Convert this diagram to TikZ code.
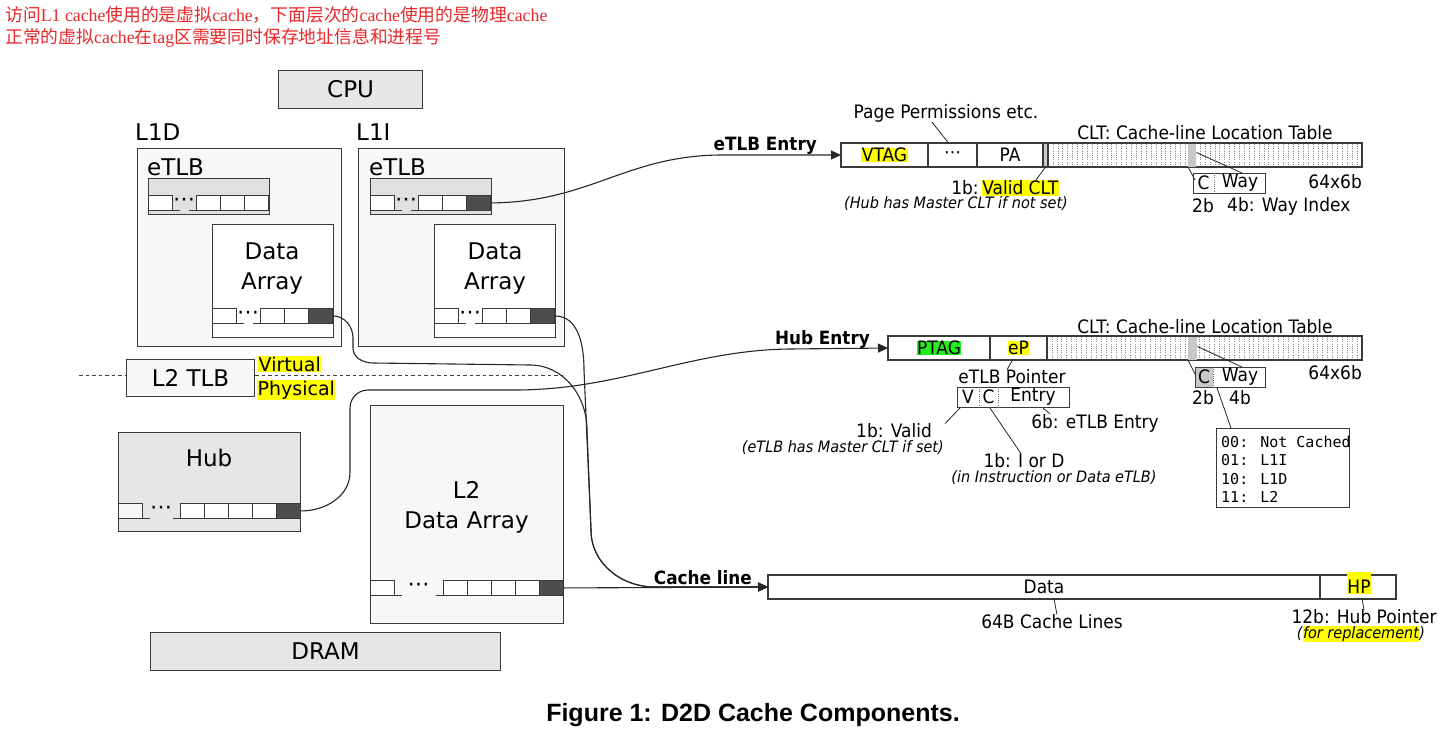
\documentclass[tikz,border=0pt]{standalone}
\usepackage{fontspec}
\setmainfont{DejaVu Sans}
\newfontfamily\condfont[FakeStretch=0.92]{DejaVu Sans}
\newfontfamily\legfont{DejaVu Sans Mono}
\newfontfamily\cjk{Noto Sans CJK SC}
\newfontfamily\serifnote{Liberation Serif}
\newfontfamily\capfont{Liberation Sans}
\usepackage{xcolor}
\usetikzlibrary{positioning,arrows.meta}

\definecolor{boxgray}{HTML}{E6E6E6}
\definecolor{paleg}{HTML}{F7F7F7}
\definecolor{stripg}{HTML}{E0E0E0}
\definecolor{hotcell}{HTML}{4D4D4D}
\definecolor{edge}{HTML}{3A3A3A}
\definecolor{slotg}{HTML}{C8C8C8}
\definecolor{hlyel}{HTML}{FFFF00}
\definecolor{hlgrn}{HTML}{22EE22}
\definecolor{notered}{HTML}{E8282B}

\newcommand{\hly}[1]{{\setlength{\fboxsep}{0.5pt}\colorbox{hlyel}{#1}}}
\newcommand{\hlg}[1]{{\setlength{\fboxsep}{0.5pt}\colorbox{hlgrn}{#1}}}

% one row of slots: x, y, height, gap, white cells, name, last fill, first fill
\newcommand{\slotrow}[8]{%
  \node[cellbox, fill=#8, minimum height=#3pt] (#6a) at (#1,#2) {};
  \draw[cellline] (#6a.south east) -- ++(7,0);
  \node[dotstxt] (#6d) at (#1+24+#4/2,#2+#3/2) {⋯};
  \draw[cellline] (#1+24+#4-7,#2+#3) -- ++(7,0) -- ++(0,-#3);
  \foreach \k in {1,...,#5}
    \node[cellbox, minimum height=#3pt] (#6c\k) at (#1+#4+24*\k,#2) {};
  \node[cellbox, fill=#7, minimum height=#3pt] (#6) at (#1+#4+24*#5+24,#2) {};
}

\begin{document}
\begin{tikzpicture}[x=1pt,y=-1pt,
  every node/.style={inner sep=0pt},
  bigtxt/.style={font=\fontsize{23}{30}\selectfont},
  vptxt/.style={font=\fontsize{19}{22}\selectfont},
  cndtxt/.style={font=\condfont\fontsize{18.5}{21}\selectfont},
  itxt/.style={font=\condfont\itshape\fontsize{15.7}{18}\selectfont},
  boldtxt/.style={font=\condfont\bfseries\fontsize{18.3}{21}\selectfont},
  legtxt/.style={font=\legfont\fontsize{15}{18.3}\selectfont, align=left},
  notetxt/.style={font=\serifnote\fontsize{17.8}{22}\selectfont, text=notered},
  captxt/.style={font=\capfont\bfseries\fontsize{25}{28}\selectfont},
  box/.style={draw=edge, line width=1.2pt, anchor=north west},
  fieldbox/.style={draw=edge, line width=1.1pt, fill=white, outer sep=0pt,
    minimum height=24pt, cndtxt},
  cellbox/.style={draw=edge, line width=0.9pt, fill=white, anchor=north west,
    minimum width=24pt},
  cellline/.style={draw=edge, line width=0.9pt},
  dotstxt/.style={font=\fontsize{22}{24}\selectfont},
  arr/.style={draw=black!85, line width=1.1pt, -{Triangle[length=10pt,width=9pt]}},
  lead/.style={draw=black!85, line width=0.8pt},
  cltline/.style={draw=black!45, line width=0.6pt, dash pattern=on 0.7pt off 1.5pt},
  divline/.style={draw=black!60, line width=0.7pt, dash pattern=on 1pt off 1.2pt},
  vpline/.style={draw=black!75, line width=0.9pt, dash pattern=on 3.5pt off 3pt},
]
\useasboundingbox (0,0) rectangle (1438,730);

% note
\node[notetxt, anchor=west] (noteone) at (5,15)
  {{\cjk 访问}L1 cache{\cjk 使用的是虚拟}cache{\cjk ，下面层次的}cache{\cjk 使用的是物理}cache};
\node[notetxt, anchor=west] (notetwo) at (5,38)
  {{\cjk 正常的虚拟}cache{\cjk 在}tag{\cjk 区需要同时保存地址信息和进程号}};

% CPU and L1 caches
\node[box, fill=boxgray, minimum width=144pt, minimum height=38pt, bigtxt] (cpu) at (278,70) {CPU};
\node[box, fill=paleg, minimum width=204pt, minimum height=198pt] (lonedbox) at (137,148) {};
\node[box, fill=paleg, minimum width=206pt, minimum height=198pt] (loneibox) at (358,148) {};
\node[bigtxt, anchor=west] (lonedlbl) at (135,132) {L1D};
\node[bigtxt, anchor=west] (loneilbl) at (356,132) {L1I};
\node[bigtxt, anchor=west] (dtlblbl) at (147,167) {eTLB};
\node[bigtxt, anchor=west] (itlblbl) at (369,167) {eTLB};
\node[box, fill=stripg, line width=1pt, minimum width=121pt, minimum height=36pt] (dtlb) at (148,178) {};
\node[box, fill=stripg, line width=1pt, minimum width=121pt, minimum height=36pt] (itlb) at (370,178) {};
\slotrow{148}{195}{15}{24}{2}{dtlbend}{white}{white}
\slotrow{370}{195}{15}{24}{2}{itlbhot}{hotcell}{white}
\node[box, fill=white, minimum width=121pt, minimum height=113pt] (ddata) at (212,224) {};
\node[box, fill=white, minimum width=121pt, minimum height=113pt] (idata) at (434,224) {};
\node[bigtxt, align=center] (ddatalbl) at (272,269) {Data\\Array};
\node[bigtxt, align=center] (idatalbl) at (495,269) {Data\\Array};
\slotrow{212}{308}{15}{24}{2}{ddatahot}{hotcell}{white}
\slotrow{434}{308}{15}{24}{2}{idatahot}{hotcell}{white}

% L2 TLB and the virtual / physical border
\node[box, fill=paleg, minimum width=128pt, minimum height=37pt, bigtxt] (ltwotlb) at (126,359) {L2 TLB};
\coordinate (vpleft) at (79,375);
\coordinate (vpright) at (563,375);
\draw[vpline] (vpleft) -- (vpleft -| ltwotlb.west);
\draw[vpline] (vpright -| ltwotlb.east) -- (vpright);
\node[vptxt, anchor=west] (virt) at (258,364) {\hly{Virtual}};
\node[vptxt, anchor=west] (phys) at (257,390) {\hly{Physical}};

% Hub, L2, DRAM
\node[box, fill=boxgray, minimum width=182pt, minimum height=99pt] (hub) at (118,432) {};
\node[bigtxt] (hubname) at (209,458) {Hub};
\slotrow{118}{503}{15}{38}{4}{hubhot}{hotcell}{paleg}
\node[box, fill=paleg, minimum width=193pt, minimum height=218pt] (ltwo) at (370,405) {};
\node[bigtxt, align=center] (ltwolbl) at (466.5,507) {L2\\Data Array};
\slotrow{370}{580}{15}{49}{4}{ltwohot}{hotcell}{white}
\node[box, fill=boxgray, minimum width=350pt, minimum height=38pt, bigtxt] (dram) at (150,632) {DRAM};

% eTLB entry
\node[cndtxt] (pagetxt) at (946,113) {Page Permissions etc.};
\node[fieldbox, anchor=north west, minimum width=87pt] (vtag) at (841,143) {\hly{VTAG}};
\node[fieldbox, minimum width=49pt, right=0pt of vtag] (dotsc) {⋯};
\node[fieldbox, minimum width=66pt, right=0pt of dotsc] (pa) {PA};
\node[fieldbox, fill=slotg, minimum width=5pt, right=0pt of pa] (vbit) {};
\node[fieldbox, minimum width=314pt, right=0pt of vbit] (eclt) {};
\foreach \k in {1,...,63}
  \draw[cltline] ({1048+\k*4.906},144) -- ++(0,22);
\node[fill=slotg, anchor=north west, minimum width=8pt, minimum height=23pt] (eslot) at (1188,143.5) {};
\node[cndtxt] (ecltlbl) at (1205,133) {CLT: Cache-line Location Table};
\node[boldtxt, anchor=east] (etlblbl) at (817,146) {eTLB Entry};
\draw[lead] ([xshift=-14pt]pagetxt.south) -- ([xshift=-4pt]dotsc.north);
\node[cndtxt] (validtxt) at (1005,188) {1b:\,\hly{Valid CLT}};
\node[itxt] (validnote) at (956,204) {(Hub has Master CLT if not set)};
\draw[lead] (vbit.south) -- ([xshift=-23pt]validtxt.north east);
\node[box, line width=1pt, fill=white, minimum width=72pt, minimum height=20pt] (ecw) at (1193,173) {};
\draw[divline] ([xshift=21pt]ecw.north west) -- ([xshift=21pt]ecw.south west);
\node[cndtxt] (ecwc) at (1203.5,183) {C};
\node[cndtxt] (ecwway) at (1240,183) {Way};
\node[cndtxt] (etwob) at (1203,206) {2b};
\node[cndtxt, anchor=west] (efourb) at (1227,206) {4b: Way Index};
\node[cndtxt, anchor=east] (esize) at (1362,182) {64x6b};
\draw[lead] (eslot.south west) -- ([xshift=2pt,yshift=-7pt]ecw.north west);
\draw[lead] ([yshift=-9pt]eslot.north east) -- ([xshift=49pt]ecw.north west);

% Hub entry
\node[boldtxt, anchor=east] (hublbl) at (870,340) {Hub Entry};
\node[fieldbox, anchor=north west, minimum width=102pt] (ptag) at (888,336) {\hlg{PTAG}};
\node[fieldbox, minimum width=57pt, right=0pt of ptag] (ep) {\hly{eP}};
\node[fieldbox, minimum width=315pt, right=0pt of ep] (hclt) {};
\foreach \k in {1,...,63}
  \draw[cltline] ({1047+\k*4.922},337) -- ++(0,22);
\node[fill=slotg, anchor=north west, minimum width=9pt, minimum height=23pt] (hslot) at (1188,336.5) {};
\node[cndtxt] (hcltlbl) at (1205,327) {CLT: Cache-line Location Table};
\node[fill=slotg, anchor=north west, minimum width=18pt, minimum height=20pt] (hcwc) at (1195,367) {};
\node[box, line width=1pt, minimum width=70pt, minimum height=20pt] (hcw) at (1195,367) {};
\draw[divline] (hcwc.north east) -- (hcwc.south east);
\node[cndtxt] (hcwctxt) at (1204,377) {C};
\node[cndtxt] (hcwway) at (1240,377) {Way};
\node[cndtxt] (htwob) at (1203,398) {2b};
\node[cndtxt] (hfourb) at (1240,398) {4b};
\node[cndtxt, anchor=east] (hsize) at (1362,373) {64x6b};
\node[box, line width=1pt, minimum width=133pt, minimum height=79pt] (legend) at (1216,428) {};
\node[legtxt, anchor=north west] (legendtxt) at (1221,436) {00: Not Cached\\01: L1I\\10: L1D\\11: L2};
\draw[lead] (hslot.south west) -- ([yshift=-7pt]hcw.north west);
\draw[lead] ([yshift=-10pt]hslot.north east) -- ([xshift=47pt]hcw.north west);
\draw[lead] ([xshift=22pt]hcw.south west) -- ([xshift=15pt]legend.north west);

% eTLB pointer
\node[cndtxt] (eptrlbl) at (1012,377) {eTLB Pointer};
\draw[lead] ([xshift=-6pt]ep.south) -- ([xshift=-5pt]eptrlbl.north);
\node[box, line width=1pt, minimum width=112pt, minimum height=20pt] (eptr) at (957,387) {};
\draw[divline] ([xshift=22pt]eptr.north west) -- ([xshift=22pt]eptr.south west);
\draw[divline] ([xshift=41pt]eptr.north west) -- ([xshift=41pt]eptr.south west);
\node[cndtxt] (eptrv) at (968,397) {V};
\node[cndtxt] (eptrc) at (988.5,397) {C};
\node[cndtxt] (eptre) at (1033,397) {Entry};
\node[cndtxt] (sixb) at (1095,423) {6b: eTLB Entry};
\draw[lead] ([xshift=-27pt]eptr.south east) -- ([xshift=-45pt]sixb.north);
\node[cndtxt] (validb) at (894,431) {1b: Valid};
\node[itxt, anchor=east] (validbnote) at (944,448) {(eTLB has Master CLT if set)};
\draw[lead] ([xshift=3pt]eptr.south west) -- ([xshift=13pt]validb.north east);
\node[cndtxt] (iord) at (1024,461) {1b: I or D};
\node[itxt] (iordnote) at (1054,478) {(in Instruction or Data eTLB)};
\draw[lead] ([xshift=33pt]eptr.south west) -- ([xshift=-3pt]iord.north);

% cache line
\node[boldtxt, anchor=east] (cllbl) at (752,578) {Cache line};
\node[fieldbox, anchor=north west, minimum width=552pt] (cdata) at (768,575) {Data};
\node[fieldbox, minimum width=76pt, right=0pt of cdata] (hp) {};
\node[cndtxt, anchor=base] (hptxt) at (1359,593.5) {\hly{\rule{0pt}{21pt}HP}};
\node[cndtxt] (clines) at (1052,622) {64B Cache Lines};
\draw[lead] ([xshift=10pt]cdata.south) -- ([xshift=5pt]clines.north);
\node[cndtxt] (hubptr) at (1364,617) {12b: Hub Pointer};
\node[itxt] (hubptrnote) at (1361,634) {(\hly{for replacement})};
\draw[lead] ([xshift=4pt]hp.south) -- (hubptr.north);

% connectors
\draw[arr] (itlbhot.east) .. controls (590,202) and (625,156) .. (720,155) -- (vtag.west);
\draw[arr] (ddatahot.east) to[out=0,in=90] (353,338) -- (353,348) to[out=-90,in=180] (373,363)
  -- (530,365) to[out=0,in=90] (587,430) -- (591,530) to[out=-90,in=180] (655,587) -- (cdata.west);
\draw[arr] (idatahot.east) to[out=0,in=90] (584,370) -- (591,530) to[out=-90,in=180] (655,587) -- (cdata.west);
\draw[arr] (ltwohot.east) -- (cdata.west);
\draw[arr] (hubhot.east) to[out=0,in=-90] (350,472) -- (350,408) to[out=90,in=180] (368,390)
  -- (515,390) .. controls (620,390) and (690,350) .. (790,349) -- (ptag.west);

% caption
\node[captxt] (caption) at (753,715) {Figure 1: D2D Cache Components.};
\end{tikzpicture}
\end{document}
